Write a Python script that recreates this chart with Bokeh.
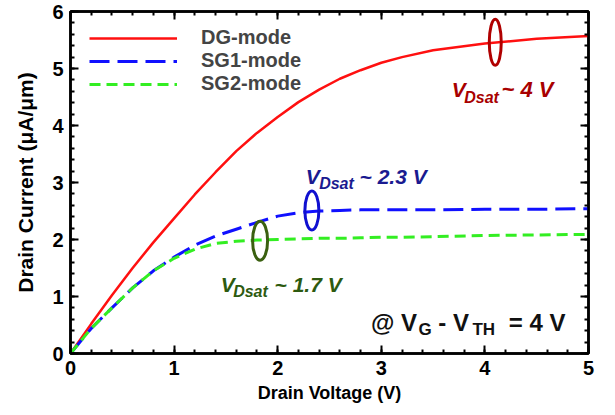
from bokeh.plotting import figure
from bokeh.models import Range1d, LinearAxis, SingleIntervalTicker, Label, Legend
from bokeh.embed import file_html
from bokeh.resources import INLINE

# ---- data ----
vd = [0, 0.2, 0.4, 0.6, 0.8, 1.0, 1.2, 1.4, 1.6, 1.8, 2.0, 2.2, 2.4, 2.6, 2.8, 3.0, 3.2, 3.5, 4.0, 4.5, 5.0]
dg_mode = [0, 0.52, 1.02, 1.5, 1.95, 2.37, 2.79, 3.18, 3.55, 3.87, 4.15, 4.41, 4.63, 4.82, 4.97, 5.1, 5.2, 5.32, 5.44, 5.52, 5.57]
sg1_mode = [0, 0.44, 0.8, 1.15, 1.45, 1.69, 1.9, 2.06, 2.18, 2.3, 2.41, 2.47, 2.5, 2.51, 2.52, 2.52, 2.52, 2.52, 2.53, 2.53, 2.54]
sg2_mode = [0, 0.44, 0.8, 1.15, 1.45, 1.67, 1.83, 1.93, 1.97, 1.99, 2.0, 2.01, 2.02, 2.02, 2.03, 2.04, 2.04, 2.05, 2.07, 2.08, 2.09]
series_names = ["DG-mode", "SG1-mode", "SG2-mode"]

# saturation markers (ellipses)
sat_x = [4.1, 2.33, 1.83]
sat_y = [5.46, 2.51, 1.98]

FONT = "Liberation Sans"

p = figure(width=615, height=415, output_backend="svg", toolbar_location=None,
           x_range=Range1d(0, 5), y_range=Range1d(0, 6),
           min_border_left=70, min_border_right=27, min_border_top=11, min_border_bottom=62)
p.xgrid.visible = False
p.ygrid.visible = False
p.outline_line_color = "black"
p.outline_line_width = 2.5
p.background_fill_color = "white"
p.border_fill_color = "white"


def style_axis(ax, labels=True):
    ax.ticker = SingleIntervalTicker(interval=1, num_minor_ticks=5)
    ax.axis_line_width = 2.5
    ax.axis_line_color = "black"
    ax.major_tick_in = 8
    ax.major_tick_out = 0
    ax.minor_tick_in = 4
    ax.minor_tick_out = 0
    ax.major_tick_line_width = 2
    ax.minor_tick_line_width = 2
    ax.major_tick_line_color = "black"
    ax.minor_tick_line_color = "black"
    if labels:
        ax.major_label_text_font = FONT
        ax.major_label_text_font_style = "bold"
        ax.major_label_text_font_size = "20px"
        ax.major_label_text_color = "black"
        ax.axis_label_text_font = FONT
        ax.axis_label_text_font_style = "bold"
        ax.axis_label_text_font_size = "18px"
        ax.axis_label_text_color = "black"
    else:
        ax.major_label_text_font_size = "0px"
        ax.major_label_text_color = None
        ax.major_label_standoff = 0


style_axis(p.xaxis[0])
style_axis(p.yaxis[0])
p.xaxis[0].axis_label = "Drain Voltage (V)"
p.yaxis[0].axis_label = "Drain Current (\u03bcA/\u03bcm)"
p.yaxis[0].axis_label_text_font_size = "21px"
p.xaxis[0].major_label_standoff = 7
p.yaxis[0].major_label_standoff = 7
p.xaxis[0].axis_label_standoff = 5
p.yaxis[0].axis_label_standoff = 12

top_ax = LinearAxis()
right_ax = LinearAxis()
style_axis(top_ax, labels=False)
style_axis(right_ax, labels=False)
p.add_layout(top_ax, "above")
p.add_layout(right_ax, "right")

r_dg = p.line(vd, dg_mode, line_color="#ff1010", line_width=2.5)
r_sg1 = p.line(vd, sg1_mode, line_color="#1010ff", line_width=3, line_dash="20 8")
r_sg2 = p.line(vd, sg2_mode, line_color="#33ee22", line_width=3, line_dash="11 6")

legend = Legend(items=[(series_names[0], [r_dg]), (series_names[1], [r_sg1]), (series_names[2], [r_sg2])],
                location=(19, 258), glyph_width=88, glyph_height=20, label_height=20,
                spacing=0, padding=4, margin=0, label_standoff=24,
                label_text_font=FONT, label_text_font_style="bold", label_text_font_size="20px",
                border_line_color=None, background_fill_alpha=0)
p.add_layout(legend, "center")

# ellipses marking saturation
ell_colors = ["#b00000", "#1010d0", "#3a6010"]
ell_w = [12, 14, 15]
ell_h = [46, 39, 39]
for i in range(3):
    p.ellipse(x=[sat_x[i]], y=[sat_y[i]], width=ell_w[i], height=ell_h[i],
              width_units="screen", height_units="screen",
              fill_color=None, line_color=ell_colors[i], line_width=3)


def lab(x, y, text, color, size="21px", style="bold italic"):
    p.add_layout(Label(x=x, y=y, text=text, text_color=color, text_font=FONT,
                       text_font_style=style, text_font_size=size,
                       text_baseline="alphabetic", text_align="left"))


# V_Dsat ~ 4 V
c = "#a80000"
lab(3.68, 4.64, "V", c)
lab(3.80, 4.50, "Dsat", c, size="16px")
lab(4.16, 4.64, "~ 4 V", c, size="22px")

# V_Dsat ~ 2.3 V
c = "#1a1a90"
lab(2.27, 3.11, "V", c)
lab(2.40, 2.99, "Dsat", c, size="16px")
lab(2.79, 3.11, "~ 2.3 V", c)

# V_Dsat ~ 1.7 V
c = "#2d5a10"
lab(1.45, 1.21, "V", c)
lab(1.57, 1.08, "Dsat", c, size="16px")
lab(1.97, 1.21, "~ 1.7 V", c)

# @ VG - VTH = 4 V
c = "#111111"
lab(2.90, 0.54, "@ V", c, size="24px", style="bold")
lab(3.36, 0.415, "G", c, size="17px", style="bold")
lab(3.55, 0.54, "- V", c, size="24px", style="bold")
lab(3.88, 0.415, "TH", c, size="17px", style="bold")
lab(4.23, 0.54, "= 4 V", c, size="24px", style="bold")

open("out.html", "w").write(file_html(p, INLINE))
